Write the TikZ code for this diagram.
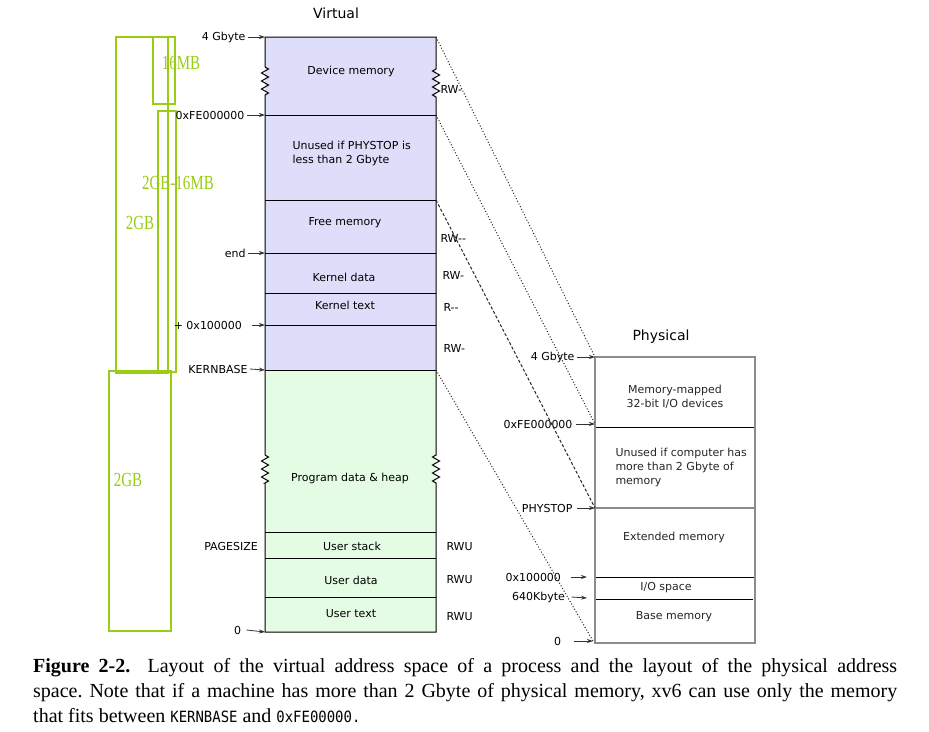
\documentclass[tikz,border=0pt]{standalone}
\usepackage{fontspec}
\setmainfont{Liberation Serif}
\newfontfamily\lblfont{DejaVu Sans}
\newfontfamily\notefont[FakeStretch=0.75]{Liberation Serif}
\newfontfamily\capmono[FakeStretch=0.9]{DejaVu Sans Mono}
\usetikzlibrary{arrows.meta,decorations.pathmorphing}
\definecolor{virtblue}{RGB}{222,222,250}
\definecolor{usergreen}{RGB}{228,252,228}
\definecolor{notegreen}{RGB}{154,204,20}
\definecolor{physgray}{RGB}{140,140,140}
\newcommand{\capcode}[1]{{\capmono\fontsize{15.5}{25}\selectfont #1}}

\begin{document}
\begin{tikzpicture}[x=1pt,y=-1pt,
    lbl/.style={font=\lblfont\fontsize{11}{14}\selectfont, inner sep=0pt, outer sep=2.5pt},
    ttl/.style={font=\lblfont\fontsize{14}{16}\selectfont, inner sep=0pt},
    arr/.style={-{Stealth[length=6pt,width=4pt]}, line width=0.8pt, black!80},
    note/.style={font=\notefont\fontsize{20}{22}\selectfont, text=notegreen, inner sep=0pt},
    notebox/.style={draw=notegreen, line width=1.2pt},
    mapdot/.style={line width=1pt, black!85, dash pattern=on 1pt off 2pt},
    mapdash/.style={line width=1pt, black!85, dash pattern=on 3pt off 2pt},
    zz/.style={decoration={zigzag, segment length=8pt, amplitude=3.5pt}}]

    \useasboundingbox[fill=white] (0,0) rectangle (929,731);

    \draw[notebox] (116,37) rectangle (168,373);
    \draw[notebox] (153,37) rectangle (175,104);
    \draw[notebox] (158,111) rectangle (176,372);
    \draw[notebox] (109,371) rectangle (171,631);
    \node[note] (n16) at (181,63) {16MB};
    \node[note] (n2g16) at (178,183) {2GB-16MB};
    \node[note] (n2gtop) at (140,223) {2GB};
    \node[note] (n2glow) at (128,480) {2GB};

    \coordinate (vTL) at (265,37);   \coordinate (vTR) at (436,37);
    \coordinate (vFEl) at (265,115); \coordinate (vFEr) at (436,115);
    \coordinate (vFRr) at (436,200);
    \coordinate (vENDl) at (265,253);
    \coordinate (vKTl) at (265,325);
    \coordinate (vKBl) at (265,370); \coordinate (vKBr) at (436,370);
    \coordinate (vBL) at (265,632);  \coordinate (vBR) at (436,632);

    \fill[virtblue] (vTL) rectangle (vKBr);
    \fill[usergreen] (vKBl) rectangle (vBR);
    \foreach \y in {115,200,253,293,325,370,532,558,597} {
        \draw[line width=1pt] (265,\y) -- (436,\y);
    }
    \draw[line width=1pt] (vTL) -- (265,67) decorate[zz]{-- (265,97)} -- (265,455)
        decorate[zz]{-- (265,483)} -- (vBL) -- (vBR) -- (436,483) decorate[zz]{-- (436,455)}
        -- (436,97) decorate[zz]{-- (436,67)} -- (vTR) -- cycle;

    \node[ttl] (virt) at (336,13) {Virtual};
    \node[lbl] (vdev) at (351,71) {Device memory};
    \node[lbl, align=left, anchor=west] (vunused) at (290,153) {Unused if PHYSTOP is\\less than 2 Gbyte};
    \node[lbl] (vfree) at (345,223) {Free memory};
    \node[lbl] (vkdata) at (344,277) {Kernel data};
    \node[lbl] (vktext) at (345,305) {Kernel text};
    \node[lbl] (vheap) at (350,478) {Program data \& heap};
    \node[lbl] (vstack) at (352,546) {User stack};
    \node[lbl] (vudata) at (351,580) {User data};
    \node[lbl] (vutext) at (351,614) {User text};

    \node[lbl, anchor=west] (rw1) at (438,89) {RW-};
    \node[lbl, anchor=west] (rw2) at (438,238) {RW--};
    \node[lbl, anchor=west] (rw3) at (440,275) {RW-};
    \node[lbl, anchor=west] (rw4) at (441,307) {R--};
    \node[lbl, anchor=west] (rw5) at (441,348) {RW-};
    \foreach \y in {547,580,617} {
        \node[lbl, anchor=west] (rwu\y) at (444,\y) {RWU};
    }

    \node[lbl, anchor=east] (l4g) at (248,37) {4 Gbyte};
    \node[lbl, anchor=east] (lfe) at (247,115) {0xFE000000};
    \node[lbl, anchor=east] (lend) at (248,253) {end};
    \node[lbl, anchor=east] (lkt) at (244.5,325) {+ 0x100000};
    \node[lbl, anchor=east] (lkb) at (250,369) {KERNBASE};
    \node[lbl] (lps) at (231,546) {PAGESIZE};
    \node[lbl, anchor=east] (l0) at (243.5,630) {0};
    \draw[arr] (l4g.east) -- (vTL);
    \draw[arr] (lfe.east) -- (vFEl);
    \draw[arr] (lend.east) -- (vENDl);
    \draw[arr] ([xshift=7pt]lkt.east) -- (vKTl);
    \draw[arr] (lkb.east) -- (vKBl);
    \draw[arr] ([xshift=3pt]l0.east) -- (vBL);

    \coordinate (pTL) at (595,357);
    \coordinate (pFE) at (595,424);
    \coordinate (pPS) at (595,508);
    \coordinate (p1M) at (587,577);
    \coordinate (p640) at (587,598);
    \coordinate (p0) at (593,641);

    \draw[physgray, line width=1.5pt] (pTL) rectangle (755,643);
    \draw[line width=0.9pt] (596,427) -- (754,427);
    \draw[physgray, line width=1.5pt] (596,508) -- (754,508);
    \draw[line width=0.9pt] (596,577) -- (754,577);
    \draw[line width=0.9pt] (596,599) -- (753,599);

    \node[ttl] (phys) at (661,337) {Physical};
    \node[lbl, text=black!85, align=center] (pmm) at (675,397) {Memory-mapped\\32-bit I/O devices};
    \node[lbl, text=black!85, align=left, anchor=west] (punused) at (613,467) {Unused if computer has\\more than 2 Gbyte of\\memory};
    \node[lbl, text=black!85] (pext) at (674,537) {Extended memory};
    \node[lbl, text=black!85] (pio) at (666,588) {I/O space};
    \node[lbl, text=black!85] (pbase) at (674,617) {Base memory};

    \node[lbl, anchor=east] (q4g) at (577,357) {4 Gbyte};
    \node[lbl, anchor=east] (qfe) at (575,424) {0xFE000000};
    \node[lbl, anchor=east] (qps) at (575,508) {PHYSTOP};
    \node[lbl, anchor=east] (q1m) at (563.5,577) {0x100000};
    \node[lbl, anchor=east] (q640) at (567.5,597) {640Kbyte};
    \node[lbl, anchor=east] (q0) at (563.5,641) {0};
    \draw[arr] (q4g.east) -- (pTL);
    \draw[arr] ([xshift=1pt]qfe.east) -- (pFE);
    \draw[arr] ([xshift=2pt]qps.east) -- (pPS);
    \draw[arr] ([xshift=7pt]q1m.east) -- (p1M);
    \draw[arr] ([xshift=4pt]q640.east) -- (p640);
    \draw[arr] ([xshift=10pt]q0.east) -- (p0);

    \draw[mapdot] (vTR) -- (pTL);
    \draw[mapdot] (vFEr) -- (pFE);
    \draw[mapdash] (vFRr) -- (pPS);
    \draw[mapdot] (vKBr) -- (p0);

    \node[anchor=base west, text width=864pt, align=justify, inner sep=0pt,
        font=\fontsize{20}{25}\selectfont\frenchspacing] (caption) at (33,672)
        {\textbf{Figure 2-2.}\hspace{8pt} Layout of the virtual address space of a process and the layout of the physical address\linebreak
        space. Note that if a machine has more than 2 Gbyte of physical memory, xv6 can use only the memory\linebreak
        that fits between \capcode{KERNBASE} and \capcode{0xFE00000.}};
\end{tikzpicture}
\end{document}
